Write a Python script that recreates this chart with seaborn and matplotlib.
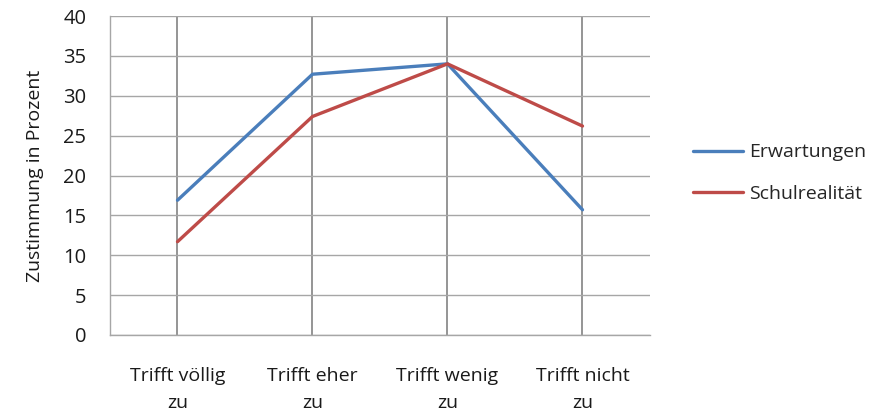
import pandas as pd
import matplotlib.pyplot as plt
import seaborn as sns

# ----------------------------
# DATA
# ----------------------------
categories = ["Trifft völlig\nzu", "Trifft eher\nzu", "Trifft wenig\nzu", "Trifft nicht\nzu"]
erwartungen = [16.9, 32.7, 34.0, 15.7]
schulrealitaet = [11.7, 27.4, 34.0, 26.2]
series_names = ["Erwartungen", "Schulrealität"]
colors = ["#4a7ebb", "#be4b48"]

df = pd.DataFrame({
    "Kategorie": categories * 2,
    "Wert": erwartungen + schulrealitaet,
    "Reihe": [series_names[0]] * 4 + [series_names[1]] * 4,
})

# ----------------------------
# PLOT
# ----------------------------
sns.set_style("white")
plt.rcParams["font.family"] = ["Open Sans", "DejaVu Sans"]

fig = plt.figure(figsize=(8.87, 4.13), dpi=100)
ax = fig.add_axes([110 / 887, 78 / 413, 540 / 887, 319 / 413])

sns.lineplot(data=df, x="Kategorie", y="Wert", hue="Reihe", palette=colors,
             sort=False, linewidth=2.4, ax=ax, legend=False, zorder=3)

ax.set_xlim(-0.5, 3.5)
ax.set_ylim(0, 40)
ax.set_yticks(range(0, 41, 5))

# gridlines
ax.yaxis.grid(True, color="#a6a6a6", linewidth=1.0)
ax.xaxis.grid(True, color="#8c8c8c", linewidth=1.3)
ax.set_axisbelow(True)

for side in ["top", "right"]:
    ax.spines[side].set_visible(False)
for side in ["left", "bottom"]:
    ax.spines[side].set_color("#a6a6a6")
    ax.spines[side].set_linewidth(1.0)

ax.tick_params(axis="x", length=8, width=1.3, color="#8c8c8c", pad=15,
               labelsize=14, labelcolor="#1a1a1a")
ax.tick_params(axis="y", length=0, pad=17, labelsize=14.5, labelcolor="#1a1a1a")
for lbl in ax.get_xticklabels():
    lbl.set_linespacing(1.65)

ax.set_xlabel("")
ax.set_ylabel("Zustimmung in Prozent", fontsize=14, color="#1a1a1a", labelpad=14)

# legend
handles = [plt.Line2D([], [], color=c, linewidth=2.4) for c in colors]
fig.legend(handles, series_names, loc="center left", bbox_to_anchor=(0.781, 0.581),
           frameon=False, fontsize=14, handlelength=2.6, labelspacing=1.2,
           handletextpad=0.3, borderaxespad=0, borderpad=0)

fig.savefig("out.png", dpi=100)
